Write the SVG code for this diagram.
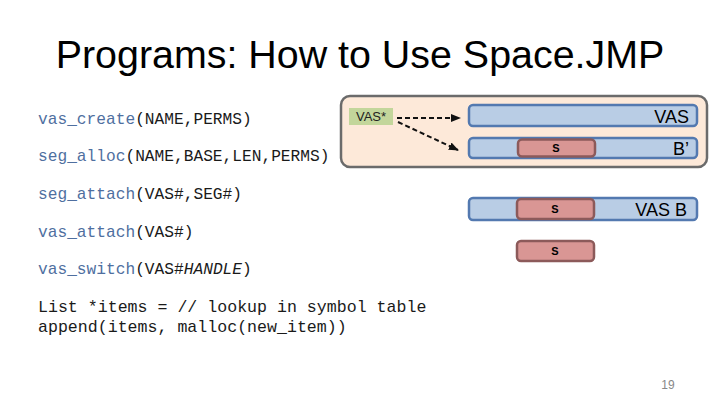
<svg xmlns="http://www.w3.org/2000/svg" width="720" height="405" viewBox="0 0 720 405">
<defs>
<style>
.title{font-family:"Liberation Sans",Arial,sans-serif;font-size:39.4px;fill:#000}
.code{font-family:"Liberation Mono","DejaVu Sans Mono",monospace;font-size:16.2px;fill:#1a1a1a}
.fn{fill:#4f6f9f}
.bar{fill:#b9cde5;stroke:#5379b0;stroke-width:2.5}
.seg{fill:#d99694;stroke:#8c5a5a;stroke-width:2.5}
.lbl{font-family:"Liberation Sans",Arial,sans-serif;font-size:18px;fill:#000}
.s{font-family:"Liberation Sans",Arial,sans-serif;font-size:11px;font-weight:bold;fill:#000}
.conn{stroke:#111;stroke-width:2;stroke-dasharray:5,3;fill:none}
</style>
<marker id="ah" markerWidth="10" markerHeight="8" refX="9" refY="4" orient="auto" markerUnits="userSpaceOnUse">
<path d="M0,0 L10,4 L0,8 z" fill="#111"/>
</marker>
</defs>
<rect width="720" height="405" fill="#fff"/>
<text class="title" x="360" y="68" text-anchor="middle">Programs: How to Use Space.JMP</text>

<g id="code">
<text class="code" x="38" y="124"><tspan class="fn">vas_create</tspan>(NAME,PERMS)</text>
<text class="code" x="38" y="161"><tspan class="fn">seg_alloc</tspan>(NAME,BASE,LEN,PERMS)</text>
<text class="code" x="38" y="199"><tspan class="fn">seg_attach</tspan>(VAS#,SEG#)</text>
<text class="code" x="38" y="237"><tspan class="fn">vas_attach</tspan>(VAS#)</text>
<text class="code" x="38" y="274"><tspan class="fn">vas_switch</tspan>(VAS#<tspan font-style="italic">HANDLE</tspan>)</text>
<text class="code" x="38" y="312" style="font-size:16.6px">List *items = // lookup in symbol table</text>
<text class="code" x="38" y="332" style="font-size:16.6px">append(items, malloc(new_item))</text>
</g>

<g id="highlight">
<rect x="341" y="96" width="366" height="71" rx="9" fill="#fde9d9" stroke="#6b6b6b" stroke-width="2.5"/>
</g>

<g id="vasptr">
<rect x="349" y="108" width="44" height="17" fill="#c3d69b"/>
<text x="371" y="121" text-anchor="middle" style="font-family:'Liberation Sans',Arial,sans-serif;font-size:13px;fill:#222">VAS*</text>
</g>

<g id="vas">
<rect class="bar" x="469" y="105" width="228" height="21" rx="4"/>
<text class="lbl" x="689" y="122.5" text-anchor="end">VAS</text>
</g>

<g id="bprime">
<rect class="bar" x="469" y="138" width="228" height="20" rx="4"/>
<text class="lbl" x="689" y="155" text-anchor="end">B’</text>
<rect class="seg" x="518" y="139.5" width="77" height="17" rx="4"/>
<text class="s" x="556" y="152" text-anchor="middle">S</text>
</g>

<g id="vasb">
<rect class="bar" x="469" y="198" width="228" height="22" rx="4"/>
<text class="lbl" x="687" y="216" text-anchor="end">VAS B</text>
<rect class="seg" x="517" y="199" width="77" height="20" rx="4"/>
<text class="s" x="555" y="213" text-anchor="middle">S</text>
</g>

<g id="seg">
<rect class="seg" x="517" y="241" width="77" height="20" rx="4"/>
<text class="s" x="555" y="255" text-anchor="middle">S</text>
</g>

<g id="connectors">
<line class="conn" x1="397" y1="118" x2="460" y2="118" marker-end="url(#ah)"/>
<line class="conn" x1="398" y1="122" x2="458" y2="150" marker-end="url(#ah)"/>
</g>

<text x="668" y="389" text-anchor="middle" style="font-family:'Liberation Sans',Arial,sans-serif;font-size:12px;fill:#888">19</text>
</svg>
